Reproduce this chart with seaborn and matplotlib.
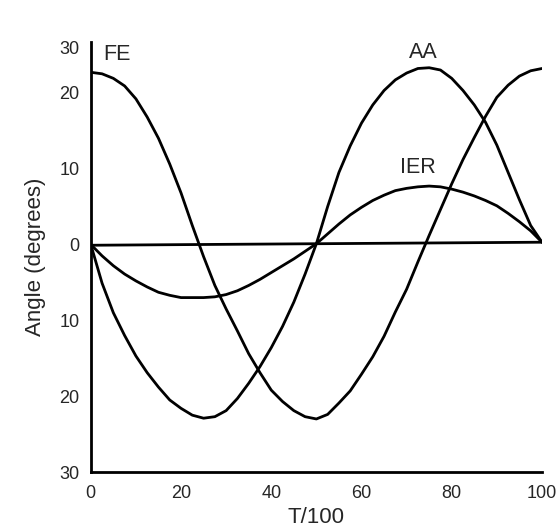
import numpy as np
import pandas as pd
import matplotlib
matplotlib.use("Agg")
import matplotlib.pyplot as plt
import seaborn as sns

# values (T/100 in steps of 2.5)
t_vals = [0, 2.5, 5, 7.5, 10, 12.5, 15, 17.5, 20, 22.5, 25,
          27.5, 30, 32.5, 35, 37.5, 40, 42.5, 45, 47.5, 50,
          52.5, 55, 57.5, 60, 62.5, 65, 67.5, 70, 72.5, 75,
          77.5, 80, 82.5, 85, 87.5, 90, 92.5, 95, 97.5, 100]
fe = [22.7, 22.5, 21.9, 20.9, 19.2, 16.8, 14.0, 10.6, 6.8, 2.5, -1.6,
      -5.4, -8.5, -11.4, -14.4, -16.9, -19.2, -20.7, -21.9, -22.7, -23.0,
      -22.4, -20.9, -19.3, -17.1, -14.8, -12.1, -8.9, -5.9, -2.3, 1.2,
      4.6, 8.0, 11.2, 14.1, 16.9, 19.4, 21.0, 22.2, 22.9, 23.2]
aa = [0.0, -5.1, -9.0, -12.0, -14.7, -16.9, -18.8, -20.5, -21.6, -22.5, -22.9,
      -22.7, -21.9, -20.3, -18.3, -16.1, -13.6, -10.8, -7.6, -3.9, 0.1,
      5.0, 9.5, 13.0, 16.0, 18.4, 20.3, 21.7, 22.6, 23.2, 23.3,
      23.0, 21.9, 20.3, 18.4, 16.1, 13.1, 9.5, 5.9, 2.5, 0.3]
ier = [0.0, -1.5, -2.8, -3.9, -4.8, -5.6, -6.3, -6.7, -7.0, -7.0, -7.0,
       -6.9, -6.6, -6.1, -5.4, -4.6, -3.7, -2.8, -1.9, -0.9, 0.1,
       1.4, 2.7, 3.9, 4.9, 5.8, 6.5, 7.1, 7.4, 7.6, 7.7,
       7.6, 7.3, 6.9, 6.4, 5.8, 5.1, 4.1, 3.0, 1.8, 0.3]
zero_t = [0, 100]
zero_line = [-0.1, 0.3]

series_names = ["FE", "AA", "IER"]
label_pos = {"FE": (5.7, 25.1), "AA": (73.6, 25.3), "IER": (72.4, 10.2)}

ytick_pos = [26, 20, 10, 0, -10, -20, -30]
ytick_labels = ["30", "20", "10", "0", "10", "20", "30"]
xtick_pos = [0, 20, 40, 60, 80, 100]

df = pd.DataFrame({
    "T": t_vals * 3,
    "angle": fe + aa + ier,
    "motion": np.repeat(series_names, len(t_vals)),
})

sns.set_style("white")
plt.rcParams["font.family"] = ["Liberation Sans", "DejaVu Sans"]

fig = plt.figure(figsize=(5.57, 5.31), dpi=100)
ax = fig.add_axes([0.163, 0.111, 0.81, 0.81])

for name in series_names:
    sub = df[df["motion"] == name]
    sns.lineplot(data=sub, x="T", y="angle", color="black", linewidth=2.0,
                 estimator=None, sort=False, ax=ax,
                 solid_capstyle="round", solid_joinstyle="round")
sns.lineplot(x=zero_t, y=zero_line, color="black", linewidth=2.0,
             estimator=None, ax=ax, solid_capstyle="round")

for name in series_names:
    x, y = label_pos[name]
    ax.text(x, y, name, ha="center", va="center", fontsize=15.5)

ax.set_xlim(0, 100)
ax.set_ylim(-30, 26.7)
ax.set_xticks(xtick_pos)
ax.set_yticks(ytick_pos)
ax.set_yticklabels(ytick_labels)
ax.tick_params(axis="both", length=0, labelsize=13)
ax.tick_params(axis="x", pad=9)
ax.tick_params(axis="y", pad=8)
ax.set_xlabel("T/100", fontsize=16, labelpad=4)
ax.set_ylabel("Angle (degrees)", fontsize=16, labelpad=10)

sns.despine(ax=ax)
for side in ["left", "bottom"]:
    ax.spines[side].set_linewidth(2.0)
    ax.spines[side].set_color("black")

fig.savefig("out.png", dpi=100)
